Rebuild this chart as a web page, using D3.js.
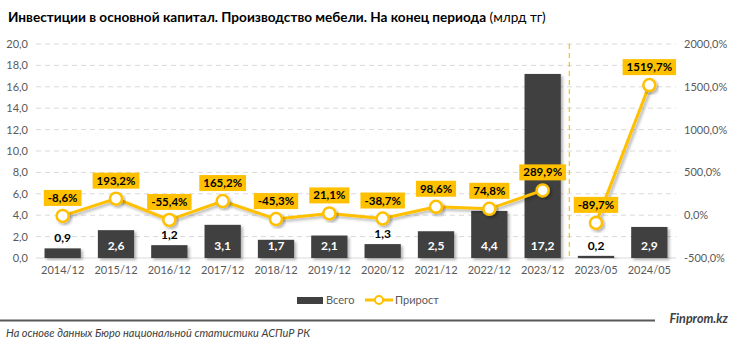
<!DOCTYPE html>
<html><head><meta charset="utf-8">
<script src="https://cdn.jsdelivr.net/npm/d3@7"></script>
<style>
body{margin:0;background:#fff;}
svg{display:block;font-family:Lato, "Open Sans", sans-serif;}
</style></head>
<body>
<svg id="c" width="731" height="349"></svg>
<script>
const categories = ["2014/12","2015/12","2016/12","2017/12","2018/12","2019/12","2020/12","2021/12","2022/12","2023/12","2023/05","2024/05"];
const totals = [0.9,2.6,1.2,3.1,1.7,2.1,1.3,2.5,4.4,17.2,0.2,2.9];
const growth = [-8.6,193.2,-55.4,165.2,-45.3,21.1,-38.7,98.6,74.8,289.9,-89.7,1519.7];
const leftTicks = [0,2,4,6,8,10,12,14,16,18,20];
const rightTicks = [-500,0,500,1000,1500,2000];
const segments = [[0,9],[10,11]];

const svg = d3.select("#c");
const defs = svg.append("defs");
const f = defs.append("filter").attr("id","sh").attr("x","-20%").attr("y","-20%").attr("width","150%").attr("height","150%");
f.append("feDropShadow").attr("dx",2).attr("dy",2).attr("stdDeviation",1.5).attr("flood-color","#000").attr("flood-opacity",0.3);

const x = d3.scaleBand().domain(categories).range([36,676]).paddingInner(0.32).paddingOuter(0.16);
const yL = d3.scaleLinear().domain([0,20]).range([258,44]);
const yR = d3.scaleLinear().domain([-500,2000]).range([258,44]);
const fmt1 = d => d.toFixed(1).replace(".",",");
const fmtP = d => d.toFixed(1).replace(".",",")+"%";

// title
const t = svg.append("text").attr("x",8).attr("y",22).attr("font-size",13.6).attr("fill","#000");
t.append("tspan").attr("font-weight","bold").text("Инвестиции в основной капитал. Производство мебели. На конец периода");
t.append("tspan").attr("font-weight","normal").text(" (млрд тг)");

// grid
svg.append("g").selectAll("line").data(leftTicks.filter(d=>d>0)).join("line")
  .attr("x1",36).attr("x2",676).attr("y1",d=>yL(d)).attr("y2",d=>yL(d))
  .attr("stroke","#d9d9d9").attr("stroke-dasharray","5,4").attr("stroke-width",1);
svg.append("line").attr("x1",36).attr("x2",676).attr("y1",yL(0)).attr("y2",yL(0)).attr("stroke","#d9d9d9");

// left axis
const gl = svg.append("g").attr("transform","translate(28,0)")
  .call(d3.axisLeft(yL).tickValues(leftTicks).tickFormat(fmt1).tickSize(0).tickPadding(0));
gl.select(".domain").remove();
gl.selectAll("text").attr("font-size",11).attr("fill","#595959").attr("font-family","Lato, sans-serif");
// right axis
const gr = svg.append("g").attr("transform","translate(684,0)")
  .call(d3.axisRight(yR).tickValues(rightTicks).tickFormat(fmtP).tickSize(0).tickPadding(0));
gr.select(".domain").remove();
gr.selectAll("text").attr("font-size",11).attr("fill","#595959").attr("font-family","Lato, sans-serif");
// x axis
const gx = svg.append("g").attr("transform","translate(0,266)")
  .call(d3.axisBottom(x).tickSize(0).tickPadding(0));
gx.select(".domain").remove();
gx.selectAll("text").attr("font-size",11).attr("fill","#595959").attr("font-family","Lato, sans-serif");

// separator
const sepX = (x(categories[9]) + x.bandwidth() + x(categories[10]))/2;
svg.append("line").attr("x1",sepX).attr("x2",sepX).attr("y1",44).attr("y2",258)
  .attr("stroke","#FFC000").attr("stroke-dasharray","5,4").attr("stroke-width",1.2);

// bars
svg.append("g").selectAll("rect").data(totals).join("rect")
  .attr("x",(d,i)=>x(categories[i])).attr("width",x.bandwidth())
  .attr("y",d=>yL(d)).attr("height",d=>yL(0)-yL(d))
  .attr("fill","#404040").attr("filter","url(#sh)");
// bar labels
const inside = d => (yL(0)-yL(d)) >= 15;
svg.append("g").selectAll("text").data(totals).join("text")
  .attr("x",(d,i)=>x(categories[i])+x.bandwidth()/2)
  .attr("y",d=> inside(d) ? 249.5 : Math.min(249.5, yL(d)-6))
  .attr("text-anchor","middle").attr("font-size",12).attr("font-weight","bold")
  .attr("fill",d=> inside(d) ? "#fff" : "#000")
  .text(fmt1);

// line
const line = d3.line().x(i=>x(categories[i])+x.bandwidth()/2).y(i=>yR(growth[i]));
segments.forEach(([a,b])=>{
  svg.append("path").datum(d3.range(a,b+1)).attr("d",line)
    .attr("fill","none").attr("stroke","#FFC000").attr("stroke-width",3).attr("filter","url(#sh)");
});
svg.append("g").selectAll("circle").data(growth).join("circle")
  .attr("cx",(d,i)=>x(categories[i])+x.bandwidth()/2).attr("cy",d=>yR(d)).attr("r",6)
  .attr("fill","#fff").attr("stroke","#FFC000").attr("stroke-width",2.5).attr("filter","url(#sh)");

// line labels
const lg = svg.append("g").selectAll("g").data(growth).join("g")
  .attr("transform",(d,i)=>`translate(${x(categories[i])+x.bandwidth()/2},${yR(d)-18})`);
lg.each(function(d){
  const g = d3.select(this);
  const tx = g.append("text").attr("text-anchor","middle").attr("y",4).attr("font-size",11.5)
    .attr("font-weight","bold").attr("fill","#000").text(fmtP(d));
  const w = tx.node().getComputedTextLength();
  g.insert("rect","text").attr("x",-w/2-4).attr("y",-8).attr("width",w+8).attr("height",16).attr("fill","#FFC000");
});

// legend
svg.append("rect").attr("x",297).attr("y",297).attr("width",26).attr("height",7).attr("fill","#404040");
svg.append("text").attr("x",326).attr("y",304).attr("font-size",11).attr("fill","#595959").text("Всего");
svg.append("line").attr("x1",365).attr("x2",393).attr("y1",300).attr("y2",300).attr("stroke","#FFC000").attr("stroke-width",3);
svg.append("circle").attr("cx",379).attr("cy",300).attr("r",4).attr("fill","#fff").attr("stroke","#FFC000").attr("stroke-width",2);
svg.append("text").attr("x",395).attr("y",304).attr("font-size",11).attr("fill","#595959").text("Прирост");

// footer
svg.append("line").attr("x1",0).attr("x2",655).attr("y1",320.5).attr("y2",320.5).attr("stroke","#595959").attr("stroke-width",2);
svg.append("text").attr("x",728).attr("y",323).attr("text-anchor","end").attr("font-size",12.5).attr("font-weight","bold")
  .attr("font-style","italic").attr("fill","#404040").text("Finprom.kz");
svg.append("text").attr("x",6).attr("y",337).attr("font-size",11).attr("font-style","italic").attr("fill","#404040")
  .text("На основе данных Бюро национальной статистики АСПиР РК");
</script>
</body></html>
